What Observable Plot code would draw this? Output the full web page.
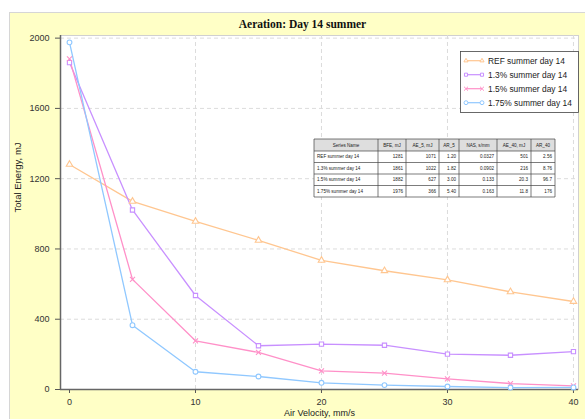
<!DOCTYPE html>
<html>
<head>
<meta charset="utf-8">
<script src="https://cdn.jsdelivr.net/npm/d3@7"></script>
<script src="https://cdn.jsdelivr.net/npm/@observablehq/plot@0.6"></script>
<style>
  html, body { margin: 0; padding: 0; background: #fff; }
  #wrap { position: relative; width: 585px; height: 419px; overflow: hidden; }
  #panel { position: absolute; left: 9px; top: 12px; width: 580px; height: 420px;
           background: #FFFFC6; border: 1px solid #d6d6d6; box-sizing: border-box; }
  #wrap svg { position: absolute; left: 0; top: 0; }
</style>
</head>
<body>
<div id="wrap"><div id="panel"></div></div>
<script>
// Air velocity steps (mm/s)
const velocity = [0, 5, 10, 15, 20, 25, 30, 35, 40];

// Total energy (mJ) per series
const refSeries  = [1281, 1071, 957, 849, 735, 676, 624, 556, 501];
const p13Series  = [1861, 1022, 535, 249, 258, 252, 201, 195, 216];
const p15Series  = [1882, 627, 277, 211, 106, 93, 61, 34, 20.3];
const p175Series = [1976, 366, 101, 74, 38, 25, 17, 11, 11.8];

const seriesNames = ["REF summer day 14", "1.3% summer day 14", "1.5% summer day 14", "1.75% summer day 14"];
const seriesValues = [refSeries, p13Series, p15Series, p175Series];
const seriesColors = ["#FFC690", "#C890FF", "#FF90C8", "#90C8FF"];
const seriesSymbols = ["triangle", "square", "times", "circle"];

// Summary table columns
const tableHeaders = ["Series Name", "BFE, mJ", "AE_5, mJ", "AR_5", "NAS, s/mm", "AE_40, mJ", "AR_40"];
const arFive   = ["1.20", "1.82", "3.00", "5.40"];
const nasValues = ["0.0327", "0.0902", "0.133", "0.163"];
const arForty  = ["2.56", "8.76", "96.7", "176"];

const xTicks = [0, 10, 20, 30, 40];
const yTicks = [0, 400, 800, 1200, 1600, 2000];

const rows = seriesNames.flatMap((name, i) =>
  velocity.map((v, j) => ({series: name, x: v, y: seriesValues[i][j]})));

const xDomain = [-0.714, 40.4];
const chart = Plot.plot({
  width: 585,
  height: 419,
  marginLeft: 60,
  marginRight: 7,
  marginTop: 35,
  marginBottom: 30,
  style: {background: "transparent", fontFamily: "Arial, 'Liberation Sans', sans-serif", fontSize: "9px", color: "#333"},
  x: {domain: xDomain, label: null},
  y: {domain: [0, 2015], label: null},
  color: {domain: seriesNames, range: seriesColors},
  symbol: {domain: seriesNames, range: seriesSymbols},
  marks: [
    Plot.frame({fill: "white", stroke: "#d0d0d0"}),
    Plot.ruleX(xTicks.slice(1), {stroke: "#dcdcdc", strokeDasharray: "4,3"}),
    Plot.ruleY(yTicks.slice(1), {stroke: "#dcdcdc", strokeDasharray: "4,3"}),
    Plot.axisX({ticks: xTicks, tickFormat: d3.format("d"), tickSize: 4, tickPadding: 5, fontSize: 9, stroke: "#555", fill: "#333"}),
    Plot.axisY({ticks: yTicks, tickFormat: d3.format("d"), tickSize: 5, tickPadding: 6, fontSize: 9, stroke: "#555", fill: "#333"}),
    Plot.ruleX([xDomain[0]], {stroke: "#666", strokeWidth: 1.5}),
    Plot.ruleY([0], {stroke: "#666", strokeWidth: 1.5}),
    Plot.line(rows, {x: "x", y: "y", z: "series", stroke: "series", strokeWidth: 1.3}),
    Plot.dot(rows, {x: "x", y: "y", stroke: "series", symbol: "series", r: 2.4, strokeWidth: 1.1, fill: "white"}),
    Plot.text(["Total Energy, mJ"], {frameAnchor: "left", dx: -43, rotate: -90, fontSize: 9.5, fill: "#222"}),
    Plot.text(["Air Velocity, mm/s"], {frameAnchor: "bottom", dy: 20, lineAnchor: "top", fontSize: 9, fill: "#222"}),
    Plot.text(["Aeration: Day 14 summer"], {frameAnchor: "top", dx: -17, dy: -11, lineAnchor: "middle",
      fontSize: 11.5, fontWeight: "bold", fontFamily: "'Liberation Serif', 'Times New Roman', serif", fill: "#111"})
  ]
});
document.getElementById("wrap").appendChild(chart);

// Overlay: legend box and summary table
const svg = d3.select(chart);
const leg = svg.append("g").attr("text-anchor", "start");
leg.append("rect").attr("x", 460.5).attr("y", 51.5).attr("width", 118).attr("height", 61)
  .attr("fill", "white").attr("stroke", "#444").attr("stroke-width", 0.8);
const d3Sym = {triangle: d3.symbolTriangle2, square: d3.symbolSquare2, times: d3.symbolTimes, circle: d3.symbolCircle2};
seriesNames.forEach((name, i) => {
  const y = 60.7 + i * 14;
  const g = leg.append("g");
  g.append("line").attr("x1", 466).attr("x2", 482).attr("y1", y).attr("y2", y)
    .attr("stroke", seriesColors[i]).attr("stroke-width", 1.2);
  [466, 482].forEach(cx => g.append("path")
    .attr("d", d3.symbol(d3Sym[seriesSymbols[i]], 12)())
    .attr("transform", `translate(${cx},${y})`)
    .attr("fill", "white").attr("stroke", seriesColors[i]).attr("stroke-width", 1));
  g.append("text").attr("x", 488).attr("y", y).attr("dy", "0.35em").attr("text-anchor", "start")
    .attr("font-size", 8.4).attr("font-family", "Arial, 'Liberation Sans', sans-serif").attr("fill", "#222")
    .text(name);
});

const colEdges = [314, 378, 406, 439, 459, 497, 531, 555];
const rowEdges = [139, 151, 162.5, 174, 185.5, 197];
const tbl = svg.append("g").attr("font-family", "Arial, 'Liberation Sans', sans-serif").attr("font-size", 4.6).attr("fill", "#222");
tbl.append("rect").attr("x", colEdges[0]).attr("y", rowEdges[0])
  .attr("width", colEdges[7] - colEdges[0]).attr("height", rowEdges[5] - rowEdges[0]).attr("fill", "white");
tbl.append("rect").attr("x", colEdges[0]).attr("y", rowEdges[0])
  .attr("width", colEdges[7] - colEdges[0]).attr("height", rowEdges[1] - rowEdges[0]).attr("fill", "#dedede");
const cells = seriesNames.map((name, i) => [
  name, String(seriesValues[i][0]), String(seriesValues[i][1]), arFive[i], nasValues[i],
  String(seriesValues[i][8]), arForty[i]
]);
tableHeaders.forEach((h, c) => {
  tbl.append("text").attr("x", (colEdges[c] + colEdges[c + 1]) / 2).attr("y", (rowEdges[0] + rowEdges[1]) / 2)
    .attr("dy", "0.35em").attr("text-anchor", "middle").text(h);
});
cells.forEach((row, r) => {
  row.forEach((v, c) => {
    const left = c === 0;
    tbl.append("text")
      .attr("x", left ? colEdges[c] + 3 : colEdges[c + 1] - 3)
      .attr("y", (rowEdges[r + 1] + rowEdges[r + 2]) / 2).attr("dy", "0.35em")
      .attr("text-anchor", left ? "start" : "end").text(v);
  });
});
colEdges.forEach(x => tbl.append("line").attr("x1", x).attr("x2", x).attr("y1", rowEdges[0]).attr("y2", rowEdges[5])
  .attr("stroke", "#444").attr("stroke-width", 0.7));
rowEdges.forEach(y => tbl.append("line").attr("x1", colEdges[0]).attr("x2", colEdges[7]).attr("y1", y).attr("y2", y)
  .attr("stroke", "#444").attr("stroke-width", 0.7));
</script>
</body>
</html>
